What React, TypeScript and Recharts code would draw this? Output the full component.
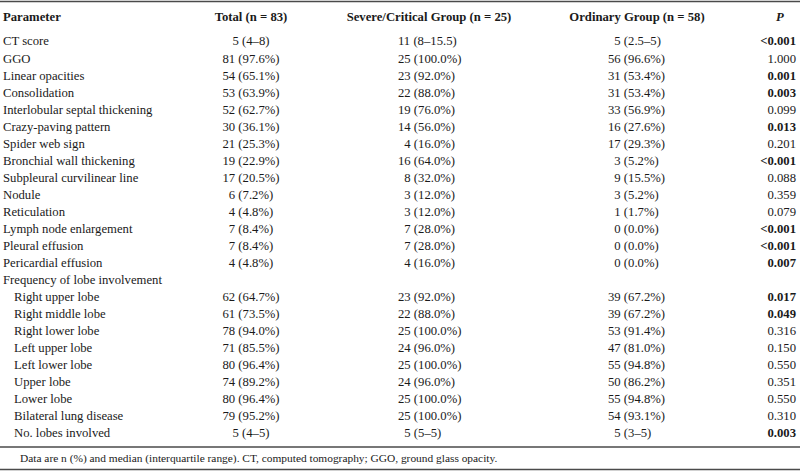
import { ComposedChart, Bar, XAxis, YAxis, usePlotArea } from 'recharts'

const parameters = [
  'CT score', 'GGO', 'Linear opacities', 'Consolidation', 'Interlobular septal thickening',
  'Crazy-paving pattern', 'Spider web sign', 'Bronchial wall thickening', 'Subpleural curvilinear line',
  'Nodule', 'Reticulation', 'Lymph node enlargement', 'Pleural effusion', 'Pericardial effusion',
  'Frequency of lobe involvement', 'Right upper lobe', 'Right middle lobe', 'Right lower lobe',
  'Left upper lobe', 'Left lower lobe', 'Upper lobe', 'Lower lobe', 'Bilateral lung disease',
  'No. lobes involved',
]
const indented = [
  false, false, false, false, false, false, false, false, false, false, false, false, false, false,
  false, true, true, true, true, true, true, true, true, true,
]
const totals = [
  '5 (4–8)', '81 (97.6%)', '54 (65.1%)', '53 (63.9%)', '52 (62.7%)', '30 (36.1%)', '21 (25.3%)',
  '19 (22.9%)', '17 (20.5%)', '6 (7.2%)', '4 (4.8%)', '7 (8.4%)', '7 (8.4%)', '4 (4.8%)', '',
  '62 (64.7%)', '61 (73.5%)', '78 (94.0%)', '71 (85.5%)', '80 (96.4%)', '74 (89.2%)', '80 (96.4%)',
  '79 (95.2%)', '5 (4–5)',
]
const severe = [
  '11 (8–15.5)', '25 (100.0%)', '23 (92.0%)', '22 (88.0%)', '19 (76.0%)', '14 (56.0%)', '4 (16.0%)',
  '16 (64.0%)', '8 (32.0%)', '3 (12.0%)', '3 (12.0%)', '7 (28.0%)', '7 (28.0%)', '4 (16.0%)', '',
  '23 (92.0%)', '22 (88.0%)', '25 (100.0%)', '24 (96.0%)', '25 (100.0%)', '24 (96.0%)', '25 (100.0%)',
  '25 (100.0%)', '5 (5–5)',
]
const ordinary = [
  '5 (2.5–5)', '56 (96.6%)', '31 (53.4%)', '31 (53.4%)', '33 (56.9%)', '16 (27.6%)', '17 (29.3%)',
  '3 (5.2%)', '9 (15.5%)', '3 (5.2%)', '1 (1.7%)', '0 (0.0%)', '0 (0.0%)', '0 (0.0%)', '',
  '39 (67.2%)', '39 (67.2%)', '53 (91.4%)', '47 (81.0%)', '55 (94.8%)', '50 (86.2%)', '55 (94.8%)',
  '54 (93.1%)', '5 (3–5)',
]
const pValues = [
  '<0.001', '1.000', '0.001', '0.003', '0.099', '0.013', '0.201', '<0.001', '0.088', '0.359', '0.079',
  '<0.001', '<0.001', '0.007', '', '0.017', '0.049', '0.316', '0.150', '0.550', '0.351', '0.550',
  '0.310', '0.003',
]
const significant = [
  true, false, true, true, false, true, false, true, false, false, false, true, true, true, false,
  true, true, false, false, false, false, false, false, true,
]
const headers = ['Parameter', 'Total (n = 83)', 'Severe/Critical Group (n = 25)', 'Ordinary Group (n = 58)', 'P']
const footnote = 'Data are n (%) and median (interquartile range). CT, computed tomography; GGO, ground glass opacity.'

const rows = parameters.map((param, i) => ({
  param,
  total: totals[i],
  severe: severe[i],
  ordinary: ordinary[i],
  p: pValues[i],
  bold: significant[i],
  indent: indented[i],
  zero: 0,
}))

const FONT = '"Liberation Serif", "Times New Roman", serif'
const SIZE = 12.7
const DIGIT = SIZE * 0.5
const INK = '#1a1a1a'
const RULE = '#4a4a4a'
const COL = {
  param: 3, indent: 14, total: 251, severe: 398, ordinary: 608, p: 796,
  severeHead: 429, ordinaryHead: 637, pHead: 780,
}

// group columns are left aligned on the digits: one-digit counts step in by a digit
const digitPad = (s: string) => (/^\d\s/.test(s) ? DIGIT : 0)

function RowTick(props: any) {
  const { y, payload } = props
  const r = rows.find((d) => d.param === payload?.value)
  if (!r) return null
  const common = { y, dy: '0.35em', fontFamily: FONT, fontSize: SIZE, fill: INK }
  return (
    <g>
      <text {...common} x={r.indent ? COL.indent : COL.param} textAnchor="start">{r.param}</text>
      <text {...common} x={COL.total} textAnchor="middle">{r.total}</text>
      <text {...common} x={COL.severe + digitPad(r.severe)} textAnchor="start">{r.severe}</text>
      <text {...common} x={COL.ordinary + digitPad(r.ordinary)} textAnchor="start">{r.ordinary}</text>
      <text {...common} x={COL.p} textAnchor="end" fontWeight={r.bold ? 'bold' : 'normal'}>{r.p}</text>
    </g>
  )
}

// header, rules and footnote, placed relative to the plot area
function Frame() {
  const area = usePlotArea()
  if (!area) return null
  const top = area.y
  const bottom = area.y + area.height
  const head = { y: top - 15.5, dy: '0.35em', fontFamily: FONT, fontSize: SIZE, fontWeight: 'bold', fill: INK }
  return (
    <g>
      <line x1={0} x2={800} y1={1.5} y2={1.5} stroke={RULE} strokeWidth={1.5} />
      <text {...head} x={COL.param} textAnchor="start">{headers[0]}</text>
      <text {...head} x={COL.total} textAnchor="middle">{headers[1]}</text>
      <text {...head} x={COL.severeHead} textAnchor="middle">{headers[2]}</text>
      <text {...head} x={COL.ordinaryHead} textAnchor="middle">{headers[3]}</text>
      <text {...head} x={COL.pHead} textAnchor="middle" fontStyle="italic">{headers[4]}</text>
      <line x1={0} x2={800} y1={bottom + 5.5} y2={bottom + 5.5} stroke={RULE} strokeWidth={1.5} />
      <text x={20} y={bottom + 16.5} dy="0.35em" fontFamily={FONT} fontSize={11.4} fill={INK}>{footnote}</text>
      <line x1={0} x2={800} y1={469.5} y2={469.5} stroke={RULE} strokeWidth={1.5} />
    </g>
  )
}

export default function App() {
  return (
    <div style={{ position: 'absolute', left: 0, top: 0, background: '#fff' }}>
      <ComposedChart
        width={800}
        height={473}
        data={rows}
        layout="vertical"
        margin={{ top: 32.5, right: 0, bottom: 31.5, left: 0 }}
      >
        <XAxis type="number" hide domain={[0, 1]} />
        <YAxis
          type="category"
          dataKey="param"
          width={1}
          axisLine={false}
          tickLine={false}
          interval={0}
          tick={(p: any) => <RowTick {...p} />}
        />
        <Bar dataKey="zero" fill="transparent" isAnimationActive={false} />
        <Frame />
      </ComposedChart>
    </div>
  )
}
